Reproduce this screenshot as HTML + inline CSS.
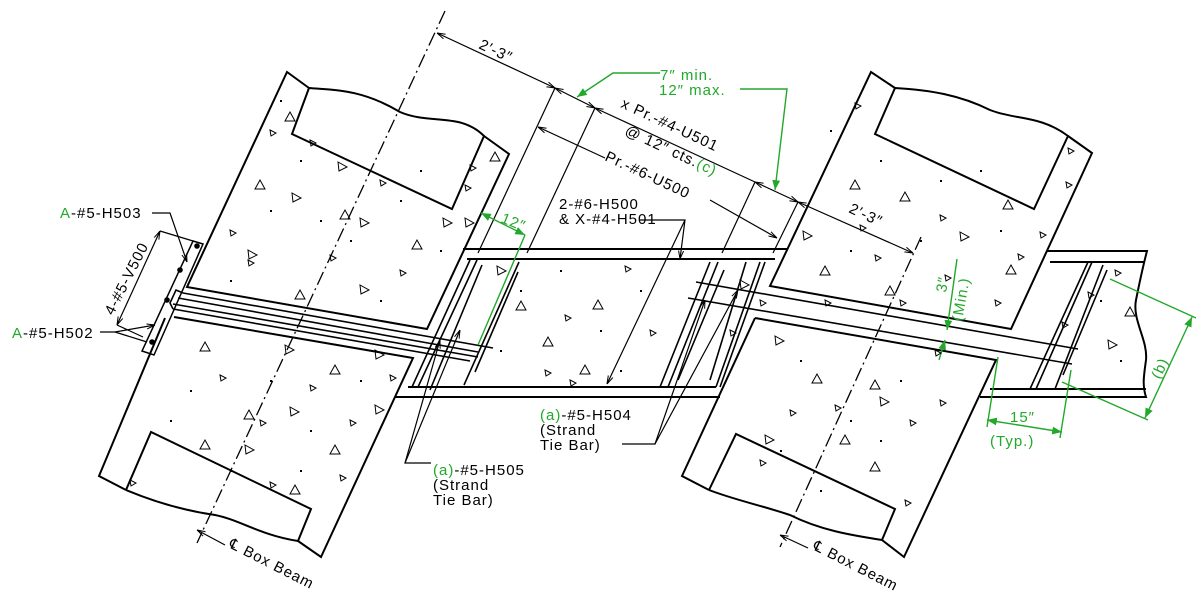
<!DOCTYPE html>
<html><head><meta charset="utf-8"><style>
html,body{margin:0;padding:0;background:#fff;}
svg{display:block}
text{font-family:"Liberation Sans",sans-serif;font-size:15px;letter-spacing:1px;fill:#000;}
.g{fill:#22a82a}
</style></head><body>
<svg width="1200" height="599" viewBox="0 0 1200 599" xmlns="http://www.w3.org/2000/svg">
<defs>
<marker id="a" viewBox="0 0 10 10" refX="10" refY="5" markerWidth="7" markerHeight="7" orient="auto-start-reverse"><path d="M0,2 L10,5 L0,8" fill="none" stroke="#000" stroke-width="1.2"/></marker>
<marker id="ag" viewBox="0 0 10 10" refX="10" refY="5" markerWidth="7" markerHeight="7" orient="auto-start-reverse"><path d="M0,1 L10,5 L0,9 z" fill="#22a82a"/></marker>
<path id="t" d="M0,0 L9,5 L1,9 Z" fill="none" stroke="#000" stroke-width="1"/>
<path id="u" d="M0,9 L5,0 L10,9 Z" fill="none" stroke="#000" stroke-width="1"/>
<path id="s" d="M0,0 L6,3 L1,6 Z" fill="none" stroke="#000" stroke-width="1"/>
<rect id="d" width="1.6" height="1.6" fill="#000"/>
</defs>
<g fill="none" stroke="#000" stroke-width="2">
<path d="M309,88 L287,72 L187,287 L427,329 L509,154 L484,136"/>
<path d="M309,88 C330,90 360,88 400,112 C430,125 460,112 484,136 L452,209 L292,134 Z"/>
<path d="M174,317 L413,358 L321,557 L298,541 M126,490 L99,476 L165,318"/>
<path d="M126,490 L151,432 L311,509 L298,541 C260,535 240,520 215,515 C180,510 150,500 126,490"/>
<path d="M193,241 L203,244 L154,355 L142,351 Z" stroke-width="1.5"/>
<path d="M895,88 L871,72 L770,286 L1011,329 L1092,153 L1068,136"/>
<path d="M895,88 C930,90 960,95 990,110 C1015,120 1040,115 1068,136 L1034,209 L875,134 Z"/>
<path d="M755,318 L996,360 L904,557 L882,540 M709,490 L682,476 L755,318"/>
<path d="M709,490 L736,434 L895,509 L882,540 C850,535 820,530 790,515 C760,505 735,500 709,490"/>
<path d="M463,249 L787,249 M467,259 L775,259 M408,387 L716,387 M395,397 L720,397"/>
<path d="M1047,251 L1147,251 C1142,270 1140,280 1136,300 C1132,320 1148,340 1146,360 C1144,375 1142,385 1146,397 L980,397 M1050,262 L1145,262 M990,389 L1146,389"/>
</g>
<g fill="none" stroke="#000" stroke-width="1.6">
<path d="M183,293 L493,348 M178,298 L478,352 M173,304 L478,357 M173,309 L470,361"/>
<path d="M183,293 L176,290 L170,303 L173,309"/>
<circle cx="197" cy="246" r="2" fill="#000"/><circle cx="180" cy="270" r="2" fill="#000"/><circle cx="167" cy="300" r="2" fill="#000"/><circle cx="152" cy="342" r="2" fill="#000"/>
<path d="M696,282 L1078,349 M688,298 L1072,364"/>
<path d="M470,260 L412,387 M477,260 L418,387 M482,265 L430,390 M519,262 L464,385 M518,272 L475,372 M710,262 L660,387 M718,262 L668,387 M724,270 L678,380 M746,262 L710,380 M760,262 L716,387 M765,262 L720,387"/>
<path d="M1088,262 L1030,389 M1092,262 L1036,389 M1103,265 L1055,389 M1107,270 L1063,375"/>
</g>
<g fill="none" stroke="#000" stroke-width="1.3" stroke-dasharray="14,4,2,4">
<path d="M445,11 L197,543"/>
<path d="M921,237 L780,547"/>
</g>
<g fill="none" stroke="#000" stroke-width="1.2">
<path d="M437,33 L555,88" marker-start="url(#a)" marker-end="url(#a)"/>
<path d="M555,88 L595,108" marker-start="url(#a)" marker-end="url(#a)"/>
<path d="M595,108 L755,182" marker-start="url(#a)"/>
<path d="M755,182 L798,202" marker-start="url(#a)" marker-end="url(#a)"/>
<path d="M798,202 L913,253" marker-start="url(#a)" marker-end="url(#a)"/>
<path d="M555,88 L478,253 M595,108 L527,253 M755,182 L722,253 M798,202 L773,253"/>
<path d="M538,127 L605,158" marker-start="url(#a)"/>
<path d="M710,200 L777,238" marker-end="url(#a)"/>
<path d="M640,220 L685,220 L680,259" marker-end="url(#a)"/>
<path d="M685,220 L607,384" marker-end="url(#a)"/>
<!-- 4-#5-V500 dimension -->
<path d="M160,231 L193,241 M117,325 L143,337"/>
<path d="M160,231 L117,325" marker-start="url(#a)" marker-end="url(#a)"/>
<path d="M152,213 L170,213 L187,262" marker-end="url(#a)"/>
<path d="M100,332 L115,332 L147,342"/>
<path d="M115,332 L155,325" marker-end="url(#a)"/>
<path d="M431,463 L405,463 L440,340" marker-end="url(#a)"/>
<path d="M405,463 L460,330" marker-end="url(#a)"/>
<path d="M622,444 L655,444 L705,300" marker-end="url(#a)"/>
<path d="M655,444 L738,290" marker-end="url(#a)"/>
<path d="M197,530 L225,545" marker-start="url(#a)"/>
<path d="M780,535 L808,548" marker-start="url(#a)"/>
</g>
<g fill="none" stroke="#22a82a" stroke-width="1.4">
<path d="M660,73 L613,73 L577,97" marker-end="url(#ag)"/>
<path d="M740,89 L787,89 L775,190" marker-end="url(#ag)"/>
<path d="M481,213 L525,235" marker-start="url(#ag)" marker-end="url(#ag)"/>
<path d="M525,235 L478,345"/>
<path d="M957,259 L947,330" marker-end="url(#ag)"/>
<path d="M939,360 L945,340" marker-end="url(#ag)"/>
<path d="M998,357 L987,427 M1071,370 L1060,438"/>
<path d="M987,420 L1062,432" marker-start="url(#ag)" marker-end="url(#ag)"/>
<path d="M1110,279 L1196,318 M1062,382 L1148,420"/>
<path d="M1192,317 L1145,418" marker-start="url(#ag)" marker-end="url(#ag)"/>
</g>
<!-- aggregate -->
<g>
<use href="#u" x="285" y="112"/><use href="#u" x="255" y="180"/><use href="#t" x="292" y="193"/><use href="#u" x="340" y="210"/><use href="#t" x="360" y="218"/><use href="#u" x="412" y="240"/><use href="#t" x="360" y="285"/><use href="#u" x="295" y="290"/><use href="#t" x="465" y="218"/><use href="#u" x="490" y="152"/><use href="#t" x="248" y="250"/><use href="#t" x="338" y="162"/><use href="#t" x="443" y="218"/><use href="#s" x="270" y="130"/><use href="#s" x="310" y="140"/><use href="#s" x="380" y="180"/><use href="#s" x="230" y="230"/><use href="#s" x="330" y="255"/><use href="#s" x="400" y="270"/><use href="#s" x="465" y="185"/><use href="#s" x="470" y="165"/><use href="#s" x="248" y="260"/>
<use href="#u" x="200" y="342"/><use href="#u" x="244" y="410"/><use href="#u" x="330" y="365"/><use href="#t" x="285" y="345"/><use href="#t" x="290" y="407"/><use href="#u" x="200" y="440"/><use href="#t" x="245" y="445"/><use href="#u" x="330" y="445"/><use href="#t" x="375" y="405"/><use href="#t" x="375" y="350"/><use href="#s" x="220" y="375"/><use href="#s" x="310" y="385"/><use href="#s" x="260" y="420"/><use href="#s" x="350" y="420"/><use href="#s" x="270" y="482"/><use href="#s" x="130" y="480"/><use href="#s" x="340" y="475"/><use href="#s" x="390" y="375"/><use href="#u" x="290" y="485"/>
<use href="#t" x="497" y="266"/><use href="#u" x="516" y="301"/><use href="#u" x="593" y="300"/><use href="#u" x="543" y="337"/><use href="#s" x="625" y="266"/><use href="#s" x="565" y="315"/><use href="#s" x="570" y="380"/><use href="#s" x="545" y="370"/><use href="#u" x="580" y="365"/><use href="#s" x="650" y="330"/><use href="#t" x="740" y="280"/><use href="#s" x="760" y="300"/><use href="#s" x="730" y="330"/>
<use href="#t" x="803" y="231"/><use href="#u" x="820" y="266"/><use href="#u" x="850" y="180"/><use href="#u" x="900" y="192"/><use href="#t" x="960" y="232"/><use href="#u" x="1003" y="200"/><use href="#u" x="1006" y="265"/><use href="#u" x="885" y="286"/><use href="#s" x="855" y="103"/><use href="#s" x="875" y="255"/><use href="#s" x="900" y="300"/><use href="#s" x="945" y="275"/><use href="#s" x="995" y="300"/><use href="#s" x="1018" y="254"/><use href="#s" x="1040" y="232"/><use href="#s" x="1066" y="182"/><use href="#s" x="1068" y="148"/><use href="#s" x="860" y="225"/><use href="#s" x="940" y="215"/><use href="#s" x="825" y="300"/>
<use href="#t" x="775" y="336"/><use href="#u" x="812" y="374"/><use href="#u" x="870" y="380"/><use href="#t" x="765" y="435"/><use href="#u" x="840" y="435"/><use href="#u" x="870" y="462"/><use href="#t" x="880" y="397"/><use href="#s" x="790" y="410"/><use href="#s" x="835" y="405"/><use href="#s" x="760" y="460"/><use href="#s" x="910" y="420"/><use href="#s" x="940" y="400"/><use href="#s" x="905" y="500"/><use href="#s" x="935" y="350"/><use href="#u" x="1125" y="307"/><use href="#t" x="1108" y="340"/><use href="#s" x="1088" y="292"/><use href="#s" x="1115" y="270"/><use href="#s" x="1062" y="322"/>
</g>
<g fill="#000">
<rect x="280" y="100" width="2" height="2"/><rect x="300" y="160" width="2" height="2"/><rect x="320" y="220" width="2" height="2"/><rect x="270" y="210" width="2" height="2"/><rect x="400" y="200" width="2" height="2"/><rect x="440" y="250" width="2" height="2"/><rect x="380" y="300" width="2" height="2"/><rect x="230" y="280" width="2" height="2"/><rect x="350" y="240" width="2" height="2"/><rect x="420" y="170" width="2" height="2"/>
<rect x="190" y="390" width="2" height="2"/><rect x="270" y="380" width="2" height="2"/><rect x="310" y="430" width="2" height="2"/><rect x="230" y="470" width="2" height="2"/><rect x="360" y="380" width="2" height="2"/><rect x="170" y="420" width="2" height="2"/><rect x="300" y="470" width="2" height="2"/>
<rect x="520" y="290" width="2" height="2"/><rect x="600" y="330" width="2" height="2"/><rect x="640" y="290" width="2" height="2"/><rect x="500" y="350" width="2" height="2"/><rect x="560" y="270" width="2" height="2"/><rect x="620" y="370" width="2" height="2"/>
<rect x="830" y="130" width="2" height="2"/><rect x="880" y="160" width="2" height="2"/><rect x="920" y="240" width="2" height="2"/><rect x="980" y="170" width="2" height="2"/><rect x="850" y="250" width="2" height="2"/><rect x="1000" y="230" width="2" height="2"/><rect x="940" y="180" width="2" height="2"/>
<rect x="800" y="360" width="2" height="2"/><rect x="850" y="420" width="2" height="2"/><rect x="780" y="450" width="2" height="2"/><rect x="900" y="380" width="2" height="2"/><rect x="820" y="490" width="2" height="2"/><rect x="880" y="440" width="2" height="2"/><rect x="1120" y="360" width="2" height="2"/><rect x="1100" y="300" width="2" height="2"/>
</g>
<text x="60" y="218"><tspan class="g">A</tspan>-#5-H503</text>
<text x="12" y="338"><tspan class="g">A</tspan>-#5-H502</text>
<text transform="translate(113,316) rotate(-63)">4-#5-V500</text>
<text transform="translate(478,48) rotate(25)">2′-3″</text>
<text transform="translate(848,212) rotate(25)">2′-3″</text>
<text transform="translate(620,107) rotate(25)">x Pr.-#4-U501</text>
<text transform="translate(624,134) rotate(25)">@ 12″ cts.<tspan class="g">(c)</tspan></text>
<text transform="translate(604,160) rotate(25)">Pr.-#6-U500</text>
<text class="g" x="660" y="80">7″ min.</text>
<text class="g" x="659" y="95">12″ max.</text>
<text class="g" transform="translate(500,222) rotate(22)">12″</text>
<text x="559" y="209">2-#6-H500</text>
<text x="559" y="224">&amp; X-#4-H501</text>
<text x="540" y="420"><tspan class="g">(a)</tspan>-#5-H504</text>
<text x="540" y="435">(Strand</text>
<text x="540" y="450">Tie Bar)</text>
<text x="433" y="475"><tspan class="g">(a)</tspan>-#5-H505</text>
<text x="433" y="490">(Strand</text>
<text x="433" y="505">Tie Bar)</text>
<text class="g" transform="translate(946,293) rotate(-80)">3″</text>
<text class="g" transform="translate(962,322) rotate(-80)">(Min.)</text>
<text class="g" x="1010" y="422">15″</text>
<text class="g" x="990" y="446">(Typ.)</text>
<text class="g" transform="translate(1160,380) rotate(-65)">(b)</text>
<text transform="translate(228,547) rotate(27)">℄ Box Beam</text>
<text transform="translate(812,549) rotate(27)">℄ Box Beam</text>
</svg>
</body></html>
